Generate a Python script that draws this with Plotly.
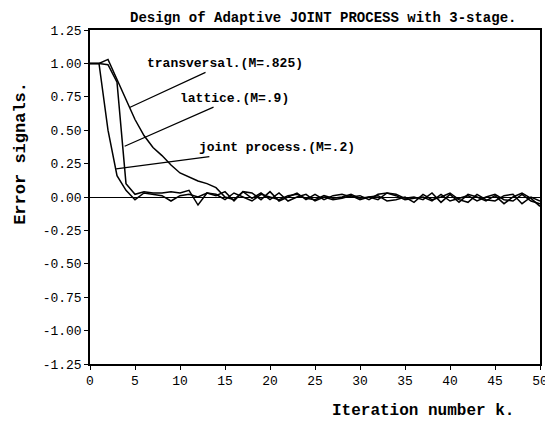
import plotly.graph_objects as go

# ---- data ----
iterations = list(range(0, 51))

transversal = [1.0, 1.0, 1.03, 0.88, 0.74, 0.58, 0.46, 0.37, 0.31, 0.24, 0.18,
               0.15, 0.12, 0.10, 0.07, 0.0,
               -0.02, 0.04, -0.01, 0.03, -0.02, 0.03, -0.03, 0.0, 0.02, -0.03,
               0.0, -0.02, -0.01, 0.01, -0.02, 0.0, 0.01, -0.03, -0.02, 0.0,
               -0.04, 0.02, -0.02, 0.0, 0.03, -0.02, -0.04, 0.02, -0.02, -0.03,
               0.01, 0.02, -0.05, 0.0, -0.03]

lattice = [1.0, 1.0, 0.99, 0.86, 0.10,
           0.02, 0.04, 0.03, 0.03, 0.04, 0.03, 0.05, -0.06, 0.03, 0.01,
           0.04, -0.03, 0.04, 0.03, -0.02, 0.04, -0.03, 0.0, 0.03, -0.02,
           0.02, -0.02, 0.01, 0.02, 0.0, 0.01, -0.02, 0.02, 0.03, 0.02,
           -0.01, 0.0, -0.02, 0.03, -0.04, 0.02, -0.04, 0.02, 0.0, -0.03,
           0.01, -0.05, 0.0, 0.03, -0.01, -0.07]

joint = [1.0, 1.0, 0.50, 0.16, 0.05,
         -0.02, 0.03, 0.02, 0.01, -0.03, 0.01, 0.02, 0.0, 0.03, 0.02,
         -0.02, 0.03, 0.0, -0.03, 0.02, 0.0, -0.02, 0.01, 0.02, -0.01,
         -0.02, 0.01, -0.01, 0.0, 0.02, -0.01, 0.0, -0.02, 0.03, 0.01,
         -0.02, -0.01, 0.0, -0.03, 0.02, -0.03, -0.01, 0.01, -0.03, 0.0,
         0.02, -0.02, -0.03, 0.02, -0.03, -0.05]

series_names = ["transversal.(M=.825)", "lattice.(M=.9)", "joint process.(M=.2)"]

x_tickvals = [0, 5, 10, 15, 20, 25, 30, 35, 40, 45, 50]
x_ticktext = ["0", "5", "10", "15", "20", "25", "30", "35", "40", "45", "50"]
y_tickvals = [1.25, 1.0, 0.75, 0.5, 0.25, 0.0, -0.25, -0.5, -0.75, -1.0, -1.25]
y_ticktext = ["1.25", "1.00", "0.75", "0.50", "0.25", "0.00",
              "-0.25", "-0.50", "-0.75", "-1.00", "-1.25"]

# label text centre and pointer target (data coords)
label_pos = [(15.0, 1.0), (16.0, 0.74), (20.8, 0.37)]
label_target = [(4.4, 0.67), (3.85, 0.38), (2.9, 0.21)]

MONO = "Liberation Mono, DejaVu Sans Mono, monospace"

fig = go.Figure()
for name, ys in zip(series_names, [transversal, lattice, joint]):
    fig.add_trace(go.Scatter(x=iterations, y=ys, mode="lines", name=name,
                             line=dict(color="black", width=1.5),
                             showlegend=False))

for name, (tx, ty), (px, py) in zip(series_names, label_pos, label_target):
    fig.add_annotation(x=px, y=py, ax=tx, ay=ty, xref="x", yref="y",
                       axref="x", ayref="y", text="<b>" + name + "</b>",
                       showarrow=True, arrowhead=0, arrowwidth=1.2,
                       arrowcolor="black", standoff=0, startstandoff=0,
                       font=dict(family=MONO, size=13, color="black"))

# page body has an 8px default margin, margins compensate for it
fig.update_layout(
    width=553, height=434,
    margin=dict(l=82, r=21, t=22, b=78, autoexpand=False),
    paper_bgcolor="white", plot_bgcolor="white",
    font=dict(family=MONO, size=13, color="black"),
)
fig.update_xaxes(range=[0, 50], tickvals=x_tickvals, ticktext=x_ticktext,
                 showline=True, linecolor="black", linewidth=1.5, mirror=True,
                 ticks="outside", ticklen=4, tickcolor="black",
                 showgrid=False, zeroline=False, automargin=False,
                 tickfont=dict(family=MONO, size=13, color="black"))
fig.update_yaxes(range=[-1.25, 1.25], tickvals=y_tickvals, ticktext=y_ticktext,
                 showline=True, linecolor="black", linewidth=1.5, mirror=True,
                 ticks="outside", ticklen=4, tickcolor="black",
                 showgrid=False, zeroline=True, zerolinecolor="black",
                 zerolinewidth=1.2, automargin=False,
                 tickfont=dict(family=MONO, size=13, color="black"))

fig.add_annotation(text="<b>Design of Adaptive JOINT PROCESS with 3-stage.</b>",
                   xref="paper", yref="paper", x=0.085, y=1.035,
                   xanchor="left", yanchor="middle", showarrow=False,
                   font=dict(family=MONO, size=14, color="black"))
fig.add_annotation(text="<b>Error signals.</b>", xref="paper", yref="paper",
                   x=-0.155, y=0.63, textangle=-90, showarrow=False,
                   xanchor="center", yanchor="middle",
                   font=dict(family=MONO, size=17, color="black"))
fig.add_annotation(text="<b>Iteration number k.</b>", xref="paper", yref="paper",
                   x=0.74, y=-0.14, showarrow=False,
                   xanchor="center", yanchor="middle",
                   font=dict(family=MONO, size=16, color="black"))

fig.write_html("out.html")
